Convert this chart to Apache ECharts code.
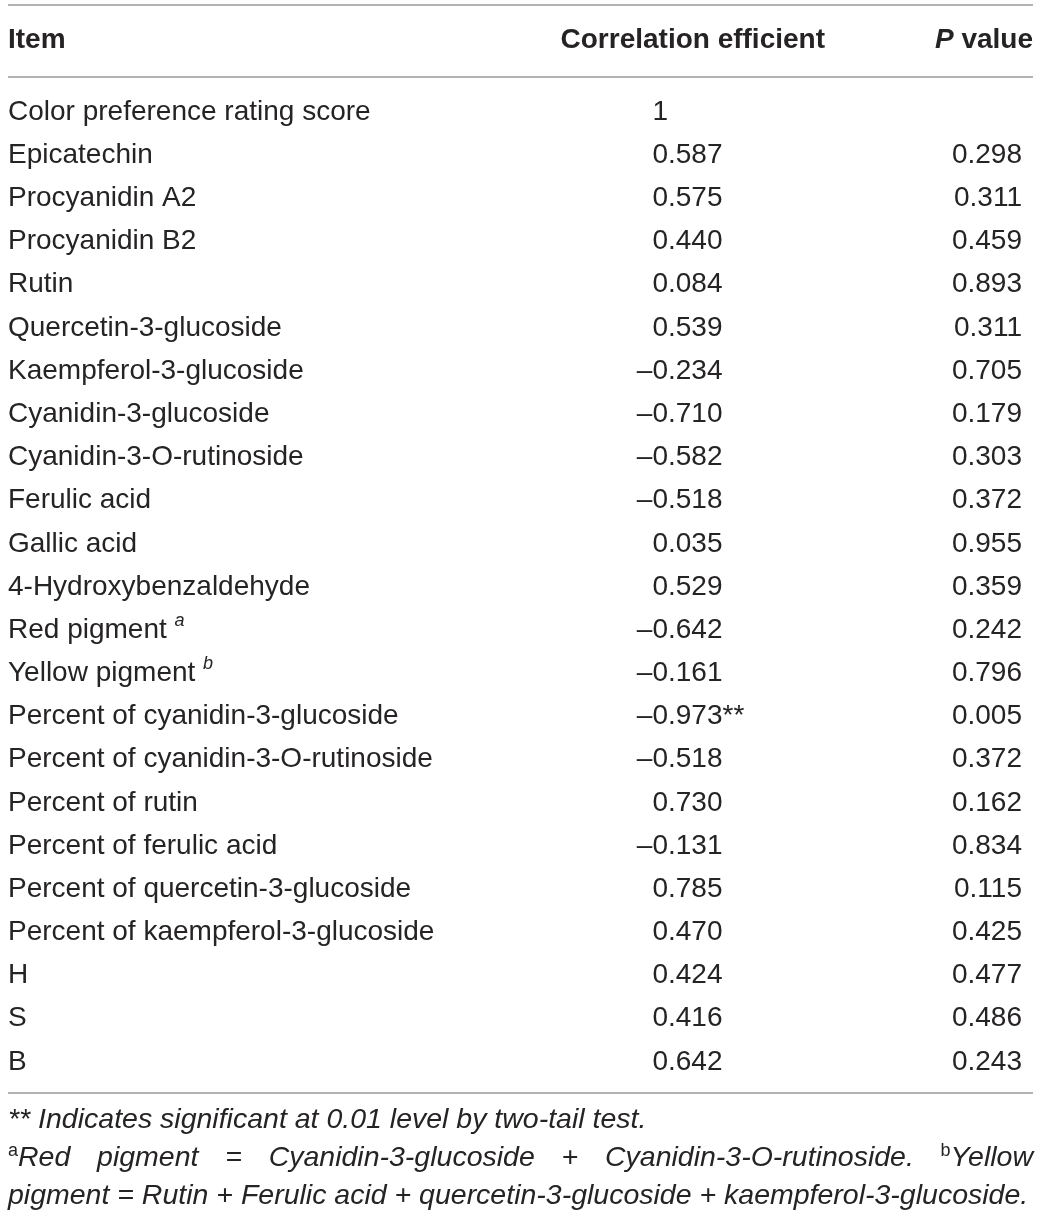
<!DOCTYPE html>
<html>
<head>
<meta charset="utf-8">
<script src="https://cdn.jsdelivr.net/npm/echarts@6/dist/echarts.min.js"></script>
<style>
  html, body { margin: 0; padding: 0; background: #fff; }
  #main { width: 1041px; height: 1217px; }
</style>
</head>
<body>
<div id="main"></div>
<script>
// table rows
var items = [
  'Color preference rating score', 'Epicatechin', 'Procyanidin A2', 'Procyanidin B2',
  'Rutin', 'Quercetin-3-glucoside', 'Kaempferol-3-glucoside', 'Cyanidin-3-glucoside',
  'Cyanidin-3-O-rutinoside', 'Ferulic acid', 'Gallic acid', '4-Hydroxybenzaldehyde',
  'Red pigment', 'Yellow pigment', 'Percent of cyanidin-3-glucoside',
  'Percent of cyanidin-3-O-rutinoside', 'Percent of rutin', 'Percent of ferulic acid',
  'Percent of quercetin-3-glucoside', 'Percent of kaempferol-3-glucoside', 'H', 'S', 'B'
];
var itemNotes = ['', '', '', '', '', '', '', '', '', '', '', '', 'a', 'b', '', '', '', '', '', '', '', '', ''];
var corrValues = [1, 0.587, 0.575, 0.440, 0.084, 0.539, -0.234, -0.710, -0.582, -0.518, 0.035, 0.529,
  -0.642, -0.161, -0.973, -0.518, 0.730, -0.131, 0.785, 0.470, 0.424, 0.416, 0.642];
var pValues = [null, 0.298, 0.311, 0.459, 0.893, 0.311, 0.705, 0.179, 0.303, 0.372, 0.955, 0.359,
  0.242, 0.796, 0.005, 0.372, 0.162, 0.834, 0.115, 0.425, 0.477, 0.486, 0.243];

var headers = ['Item', 'Correlation efficient', 'P value'];
var footnote1 = '** Indicates significant at 0.01 level by two-tail test.';
var footnote2 = [['a', 'Red'], ['', 'pigment'], ['', '='], ['', 'Cyanidin-3-glucoside'], ['', '+'],
  ['', 'Cyanidin-3-O-rutinoside.'], ['b', 'Yellow']];
var footnote3 = 'pigment = Rutin + Ferulic acid + quercetin-3-glucoside + kaempferol-3-glucoside.';

var FONT = "'Liberation Sans', Arial, sans-serif";
var INK = '#262324';
var RULE = '#9a9a9a';
var FS = 28;
var NOTE_FS = 28.5;
var LEFT = 8, RIGHT = 1033;
var DEC_X = 668;      // where the decimal point starts
var P_X = 1022;       // right edge of p values
var ROW_H = 43.18;

var cvs = document.createElement('canvas').getContext('2d');
function textW(str, size, style, weight) {
  cvs.font = (style || 'normal') + ' ' + (weight || 'normal') + ' ' + size + 'px ' + FONT;
  return cvs.measureText(str).width;
}

function txt(x, y, s, opt) {
  opt = opt || {};
  return {
    type: 'text',
    style: {
      x: x, y: y, text: s,
      fill: INK,
      fontFamily: FONT,
      fontSize: opt.size || FS,
      fontStyle: opt.style || 'normal',
      fontWeight: opt.weight || 'normal',
      align: opt.align || 'left',
      verticalAlign: 'middle'
    }
  };
}

function renderRow(params, api) {
  var i = api.value(1);
  var y = api.coord([0, i])[1];
  var kids = [];
  kids.push(txt(LEFT, y, items[i]));
  if (itemNotes[i]) {
    var w = textW(items[i] + ' ', FS);
    kids.push(txt(LEFT + w, y - 9, itemNotes[i], { size: 18, style: 'italic' }));
  }
  var v = corrValues[i];
  var intPart, fracPart;
  if (v === 1) { intPart = '1'; fracPart = ''; }
  else {
    var s = Math.abs(v).toFixed(3).split('.');
    intPart = (v < 0 ? '\u2013' : '') + s[0];
    fracPart = '.' + s[1];
  }
  if (pValues[i] !== null && pValues[i] < 0.01) fracPart += '**';
  kids.push(txt(DEC_X, y, intPart, { align: 'right' }));
  if (fracPart) kids.push(txt(DEC_X, y, fracPart));
  if (pValues[i] !== null) kids.push(txt(P_X, y, pValues[i].toFixed(3), { align: 'right' }));
  return { type: 'group', children: kids };
}

// justified second footnote line
var noteEls = [];
var widths = footnote2.map(function (g) {
  return (g[0] ? textW(g[0], 18) : 0) + textW(g[1], NOTE_FS, 'italic');
});
var total = widths.reduce(function (a, b) { return a + b; }, 0);
var gap = (RIGHT - LEFT - total) / (footnote2.length - 1);
var nx = LEFT;
footnote2.forEach(function (g, k) {
  var x = nx;
  if (g[0]) {
    noteEls.push(txt(x, 1151, g[0], { size: 18 }));
    x += textW(g[0], 18);
  }
  noteEls.push(txt(x, 1158, g[1], { size: NOTE_FS, style: 'italic' }));
  nx += widths[k] + gap;
});

var chart = echarts.init(document.getElementById('main'), null, { renderer: 'canvas' });
chart.setOption({
  backgroundColor: '#fff',
  animation: false,
  grid: { left: 0, right: 0, top: 112 - ROW_H / 2, height: ROW_H * items.length },
  xAxis: { type: 'value', min: 0, max: 1041, show: false },
  yAxis: { type: 'category', data: items, inverse: true, show: false },
  series: [{
    type: 'custom',
    renderItem: renderRow,
    data: items.map(function (_, i) { return [0, i]; })
  }],
  graphic: [
    { type: 'line', shape: { x1: LEFT, y1: 5, x2: RIGHT, y2: 5 }, style: { stroke: RULE, lineWidth: 1.5 } },
    { type: 'line', shape: { x1: LEFT, y1: 77, x2: RIGHT, y2: 77 }, style: { stroke: RULE, lineWidth: 1.5 } },
    { type: 'line', shape: { x1: LEFT, y1: 1093, x2: RIGHT, y2: 1093 }, style: { stroke: RULE, lineWidth: 1.5 } },
    txt(LEFT, 40, headers[0], { weight: 'bold' }),
    txt(825, 40, headers[1], { weight: 'bold', align: 'right' }),
    {
      type: 'text',
      style: {
        x: RIGHT, y: 40, text: '{i|P}' + headers[2].slice(1),
        fill: INK, fontFamily: FONT, fontSize: FS, fontWeight: 'bold',
        align: 'right', verticalAlign: 'middle',
        rich: { i: { fontFamily: FONT, fontSize: FS, fontWeight: 'bold', fontStyle: 'italic', fill: INK } }
      }
    },
    txt(LEFT, 1120, footnote1, { size: NOTE_FS, style: 'italic' }),
    txt(LEFT, 1196, footnote3, { size: NOTE_FS, style: 'italic' })
  ].concat(noteEls)
});
</script>
</body>
</html>
